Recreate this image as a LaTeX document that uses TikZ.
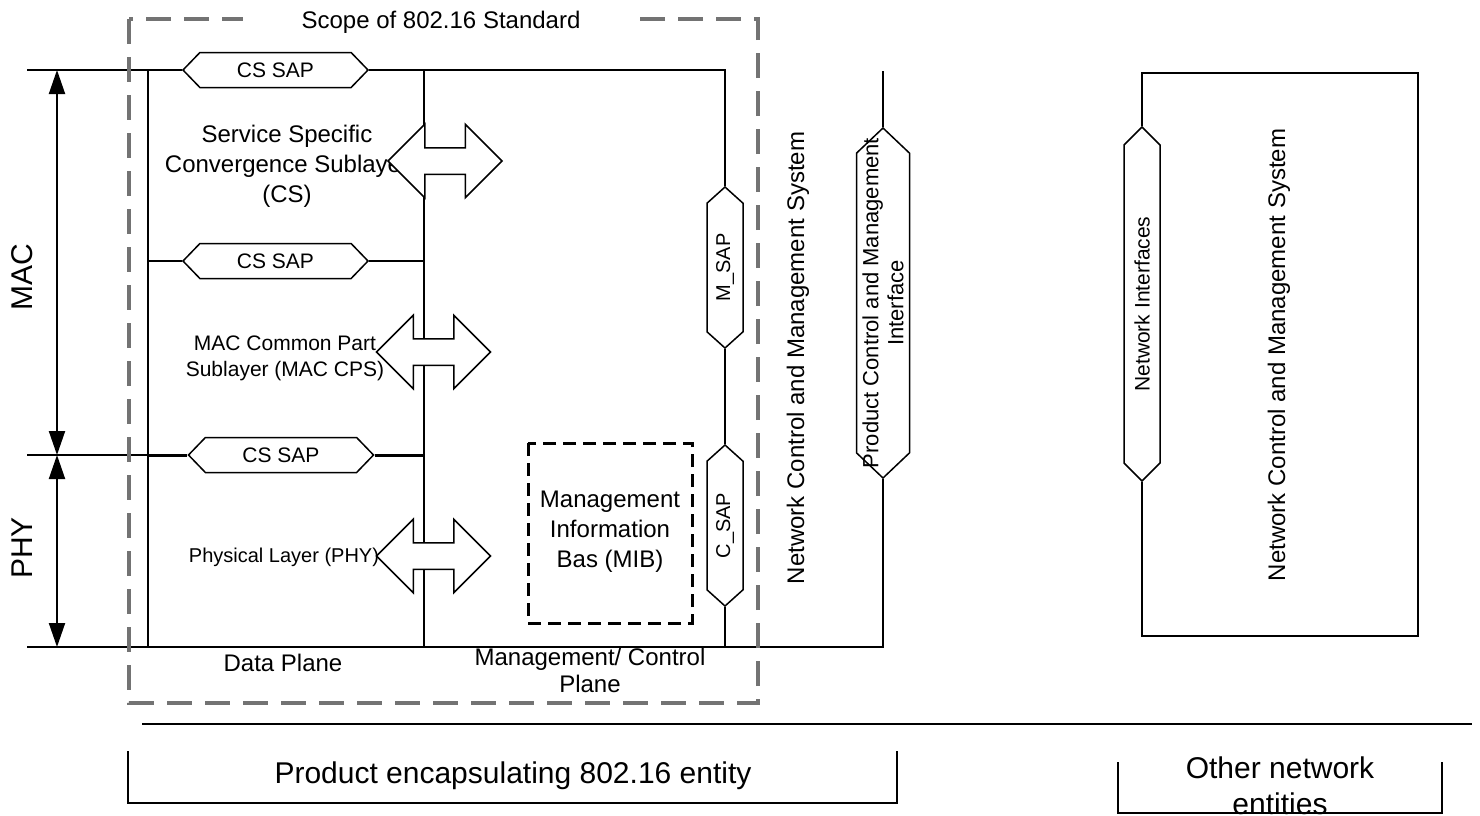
\documentclass[tikz,border=0pt]{standalone}
\usepackage{fontspec}
\setmainfont{Liberation Sans}
\usetikzlibrary{shapes.symbols,shapes.arrows,arrows.meta}

\tikzset{
  sap/.style={draw, fill=white, line width=1.5pt, shape=signal, signal to=east and west,
    signal pointer angle=92, inner sep=0pt, minimum width=185pt, minimum height=35pt,
    font=\fontsize{21}{25}\selectfont},
  vsap/.style={sap, rotate=90, minimum width=161pt, minimum height=36pt,
    signal pointer angle=96, font=\fontsize{20}{24}\selectfont},
  dbl/.style={draw, fill=white, line width=1.5pt, shape=double arrow, double arrow head extend=23.5pt,
    inner xsep=0pt, inner ysep=12.5pt, minimum height=114pt},
  txt/.style={align=center, font=\fontsize{24}{30}\selectfont},
  small/.style={align=center, font=\fontsize{21}{26}\selectfont},
  big/.style={align=center, font=\fontsize{30}{36}\selectfont},
  stdline/.style={draw=black!55, line width=4pt, dash pattern=on 25pt off 13pt},
  mibline/.style={line width=3pt, dash pattern=on 13pt off 7pt}
}

\begin{document}
\begin{tikzpicture}[x=1pt, y=-1pt, line width=2pt, >={Triangle[length=24pt,width=16pt]}]
\useasboundingbox (0,0) rectangle (1480,815);
\clip (0,0) rectangle (1480,815);

\node (cstxt) [txt] at (287,166) {Service Specific\\Convergence Sublayer\\(CS)};
\node (cpstxt) [small] at (285,358) {MAC Common Part\\Sublayer (MAC CPS)};
\node (phytxt) [font=\fontsize{20}{24}\selectfont] at (284,557) {Physical Layer (PHY)};
\node (mac) [big, rotate=90] at (22,277) {MAC};
\node (phy) [big, rotate=90] at (22,548) {PHY};

\foreach \n/\x/\y in {1/275.5/70, 2/275.5/261, 3/281/455}
  \node (cs\n) [sap] at (\x,\y) {CS SAP};
\node (msap) [vsap] at (725,267.5) {M\_SAP};
\node (csap) [vsap] at (725,525.5) {C\_SAP};
\node (pcmi) [vsap, minimum width=350pt, minimum height=53pt, signal pointer angle=93] at (883,303) {};
\node (pcmitxt) [rotate=90, align=center, font=\fontsize{22}{25}\selectfont] at (pcmi) {Product Control and Management\\Interface};
\node (ni) [vsap, minimum width=354pt, signal pointer angle=90, font=\fontsize{21}{25}\selectfont] at (1142,304) {Network Interfaces};

\draw (27,70) -- (cs1.west);
\draw (cs1.east) -- (725,70) -- (msap.east);
\draw (msap.west) -- (csap.east);
\draw (csap.west) -- (725,647);
\draw (148,70) -- (148,647);
\draw (424,70) -- (424,647);
\draw (148,261) -- (cs2.west);
\draw (cs2.east) -- (424,261);
\draw (27,455) -- (148,455);
\draw [line width=3pt] (148,455) -- (cs3.west) (cs3.east) -- (424,455);
\draw (27,647) -- (883,647) -- (pcmi.west);
\draw (pcmi.east) -- (883,71);
\draw (ni.east) -- (1142,73) -- (1418,73) -- (1418,636) -- (1142,636) -- (ni.west);

\foreach \n/\x/\y in {1/445/161, 2/433.5/352, 3/433.5/556}
  \node (da\n) [dbl] at (\x,\y) {};

\draw [<->] (57,70) -- (57,455);
\draw [<->] (57,455) -- (57,647);

\draw [mibline] (528,443) rectangle (692,623);
\node (mib) [txt] at (610,532) {Management\\Information\\Bas (MIB)};

\node (data) [txt] at (283,663) {Data Plane};
\node (mgmt) [align=center, font=\fontsize{24}{27}\selectfont] at (590,670) {Management/ Control\\Plane};
\node (ncms) [txt, rotate=90] at (798,358) {Network Control and Management System};
\node (ncms2) [txt, rotate=90] at (1279,355) {Network Control and Management System};

\draw [stdline] (129,19) rectangle (758,703);
\node (std) [txt, fill=white, minimum width=396pt, inner ysep=2pt] at (441,22) {Scope of 802.16 Standard};

\draw (142,724) -- (1472,724);
\draw (128,751) -- (128,803) -- (897,803) -- (897,751);
\node (prod) [big] at (513,776) {Product encapsulating 802.16 entity};
\node (other) [big] at (1280,786) {Other network\\entities};
\draw (1118,762) -- (1118,813) -- (1442,813) -- (1442,762);
\end{tikzpicture}
\end{document}
